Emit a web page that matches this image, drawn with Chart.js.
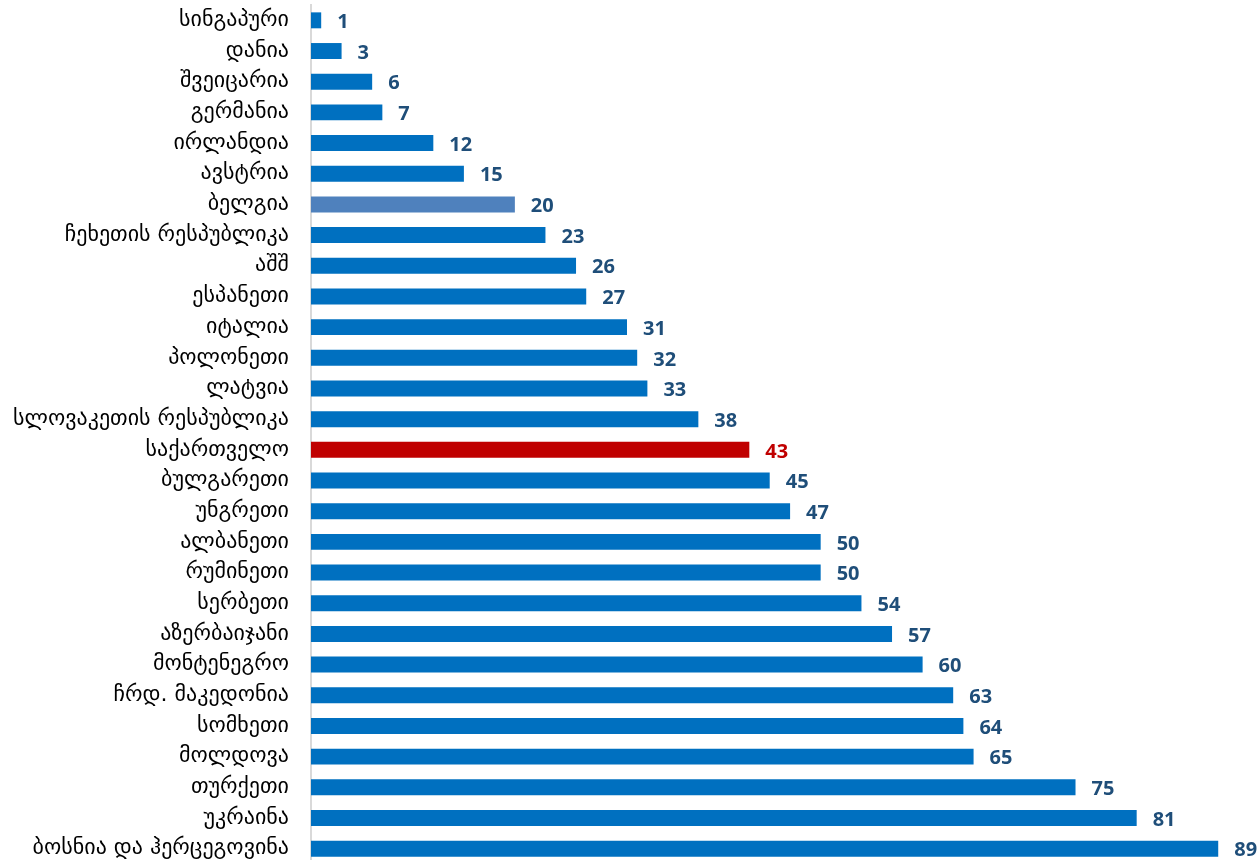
<!DOCTYPE html>
<html>
<head>
<meta charset="utf-8">
<script src="https://cdn.jsdelivr.net/npm/chart.js@4"></script>
<style>
  html, body { margin: 0; padding: 0; overflow: hidden; background: #fff; }
  #wrap { width: 1259px; height: 869px; position: relative; }
</style>
</head>
<body>
<div id="wrap"><canvas id="myChart"></canvas></div>
<script>
// ქვეყნები და მნიშვნელობები
const countries = [
  'სინგაპური', 'დანია', 'შვეიცარია', 'გერმანია', 'ირლანდია', 'ავსტრია', 'ბელგია',
  'ჩეხეთის რესპუბლიკა', 'აშშ', 'ესპანეთი', 'იტალია', 'პოლონეთი', 'ლატვია',
  'სლოვაკეთის რესპუბლიკა', 'საქართველო', 'ბულგარეთი', 'უნგრეთი', 'ალბანეთი',
  'რუმინეთი', 'სერბეთი', 'აზერბაიჯანი', 'მონტენეგრო', 'ჩრდ. მაკედონია', 'სომხეთი',
  'მოლდოვა', 'თურქეთი', 'უკრაინა', 'ბოსნია და ჰერცეგოვინა'
];
const values = [1, 3, 6, 7, 12, 15, 20, 23, 26, 27, 31, 32, 33, 38, 43, 45, 47, 50, 50, 54, 57, 60, 63, 64, 65, 75, 81, 89];
const highlightGeorgia = 'საქართველო';
const highlightBelgium = 'ბელგია';

const barColors = countries.map(c => c === highlightGeorgia ? '#C00000' : (c === highlightBelgium ? '#4F81BD' : '#0070C0'));
const labelColors = countries.map(c => c === highlightGeorgia ? '#C00000' : '#1F4E79');

// მნიშვნელობების წარწერები ზოლების ბოლოს
const valueLabels = {
  id: 'valueLabels',
  afterDatasetsDraw(chart) {
    const { ctx } = chart;
    const meta = chart.getDatasetMeta(0);
    ctx.save();
    ctx.font = 'bold 20px "Open Sans", "Liberation Sans", sans-serif';
    ctx.textAlign = 'left';
    ctx.textBaseline = 'middle';
    meta.data.forEach((bar, i) => {
      ctx.fillStyle = labelColors[i];
      ctx.fillText(String(values[i]), bar.x + 16, bar.y + 2);
    });
    ctx.restore();
  }
};

new Chart(document.getElementById('myChart'), {
  type: 'bar',
  data: {
    labels: countries,
    datasets: [{
      data: values,
      backgroundColor: barColors,
      borderWidth: 0,
      barPercentage: 0.52,
      categoryPercentage: 1
    }]
  },
  options: {
    indexAxis: 'y',
    responsive: true,
    maintainAspectRatio: false,
    animation: false,
    layout: { padding: { top: 5, bottom: 5, left: 0, right: 0 } },
    plugins: {
      legend: { display: false },
      tooltip: { enabled: false }
    },
    scales: {
      x: {
        display: false,
        min: 0,
        max: 93
      },
      y: {
        afterFit: (scale) => {
          scale.width = 311;
          scale.paddingTop = 0;
          scale.paddingBottom = 0;
        },
        grid: {
          display: true,
          drawOnChartArea: false,
          drawTicks: false
        },
        border: { display: true, color: '#D9D9D9', width: 2 },
        ticks: {
          padding: 22,
          color: '#000',
          font: { family: '"DejaVu Sans", sans-serif', size: 22 }
        }
      }
    }
  },
  plugins: [valueLabels]
});
</script>
</body>
</html>
